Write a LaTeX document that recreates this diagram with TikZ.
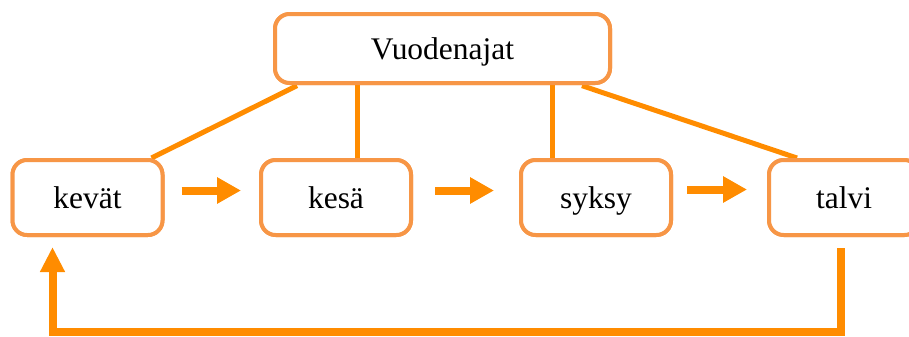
\documentclass[tikz,border=0pt]{standalone}
\usepackage{fontspec}
\setmainfont{Liberation Serif}
\usetikzlibrary{arrows.meta,calc}
\definecolor{boxorange}{HTML}{F79646}
\definecolor{lineorange}{HTML}{FF8C00}
\tikzset{
  season/.style={draw=boxorange, line width=3pt, rounded corners=11pt, fill=white,
    minimum width=112.5pt, minimum height=56.25pt, outer sep=0pt, inner sep=0pt,
    text height=16pt, text depth=0pt,
    font=\fontsize{23.6}{28}\selectfont},
  topbox/.style={season, minimum width=251.25pt, minimum height=51.75pt},
  link/.style={draw=lineorange, line width=3.75pt},
  flow/.style={draw=lineorange, line width=6pt,
    -{Triangle[length=18pt,width=18.75pt]}},
  loop/.style={draw=lineorange, line width=6pt, line join=miter,
    -{Triangle[length=18.75pt,width=17.5pt]}}
}
\begin{document}
\begin{tikzpicture}[x=0.75pt,y=-0.75pt]
\useasboundingbox (0,0) rectangle (909,336);
\node[topbox] (top) at (442.5,48.5) {Vuodenajat};
\node[season] (kevat) at (87.5,197.5) {kevät};
\node[season] (kesa) at (336,197.5) {kesä};
\node[season] (syksy) at (596,197.5) {syksy};
\node[season] (talvi) at (844,197.5) {talvi};
% connectors from top box
\draw[link] ([xshift=16.5pt,yshift=-2pt]top.south west) -- ([xshift=-8.25pt,yshift=1.5pt]kevat.north east);
\draw[link] ([xshift=15.75pt,yshift=1.5pt]kesa.north) -- ([xshift=15.75pt]kesa.north |- top.south);
\draw[link] ([xshift=-33pt,yshift=1.5pt]syksy.north) -- ([xshift=-33pt]syksy.north |- top.south);
\draw[link] ([xshift=-21pt,yshift=-2pt]top.south east) -- ([xshift=21pt,yshift=1.5pt]talvi.north west);
% redraw boxes over connector ends
\node[topbox] at (top) {Vuodenajat};
\node[season] at (kevat) {kevät};
\node[season] at (kesa) {kesä};
\node[season] at (syksy) {syksy};
\node[season] at (talvi) {talvi};
% flow arrows
\draw[flow] ([xshift=14.25pt,yshift=5.25pt]kevat.east) -- ([xshift=-15pt,yshift=5.25pt]kesa.west);
\draw[flow] ([xshift=18pt,yshift=5.25pt]kesa.east) -- ([xshift=-20.25pt,yshift=5.25pt]syksy.west);
\draw[flow] ([xshift=12pt,yshift=6pt]syksy.east) -- ([xshift=-16.5pt,yshift=6pt]talvi.west);
% loop back
\coordinate (loopstart) at ([xshift=-2.25pt,yshift=-9.75pt]talvi.south);
\coordinate (loopend) at ([xshift=-26.25pt,yshift=-9pt]kevat.south);
\draw[loop] (loopstart) -- ++(0,84) -| (loopend);
\end{tikzpicture}
\end{document}
